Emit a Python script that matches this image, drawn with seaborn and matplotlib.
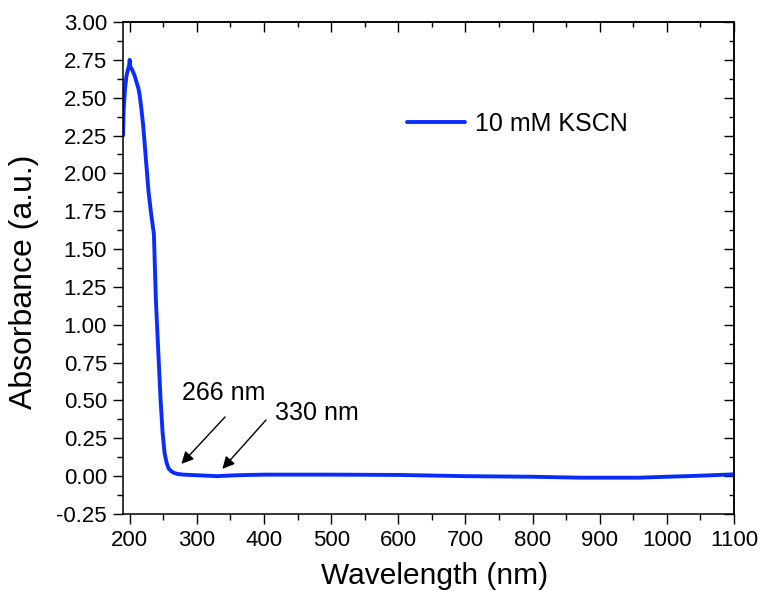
import matplotlib
matplotlib.use("Agg")
import matplotlib.pyplot as plt
import seaborn as sns
import pandas as pd
from matplotlib.ticker import MultipleLocator

wavelength = [190, 191, 193, 195, 197, 199, 200, 201, 203, 205, 207, 209, 211, 213, 215, 217,
              220, 224, 228, 232, 236, 239, 243, 246, 249, 252, 255, 258, 262, 266, 272, 280,
              300, 330, 360, 400, 500, 600, 700, 800, 870, 900, 960, 1000, 1050, 1100]
absorbance = [2.25, 2.42, 2.56, 2.64, 2.68, 2.71, 2.75, 2.70, 2.69, 2.67, 2.65, 2.62, 2.59, 2.56, 2.51, 2.44,
              2.32, 2.10, 1.88, 1.73, 1.60, 1.16, 0.78, 0.50, 0.285, 0.15, 0.087, 0.05, 0.032, 0.021, 0.014, 0.010,
              0.006, 0.000, 0.006, 0.010, 0.010, 0.008, 0.000, -0.004, -0.010, -0.010, -0.010, -0.004, 0.003, 0.012]
series_label = "10 mM KSCN"
x_ticks = [200, 300, 400, 500, 600, 700, 800, 900, 1000, 1100]
y_ticks = [-0.25, 0.00, 0.25, 0.50, 0.75, 1.00, 1.25, 1.50, 1.75, 2.00, 2.25, 2.50, 2.75, 3.00]
annot_texts = ["266 nm", "330 nm"]
annot_text_pos = [(278, 0.55), (416, 0.418)]
annot_tail = [(342, 0.391), (403, 0.371)]
annot_head = [(277, 0.081), (338, 0.048)]

sns.set_style("ticks")
plt.rcParams['font.family'] = ['Liberation Sans', 'DejaVu Sans']
for key in ["text.color", "axes.labelcolor", "xtick.color", "ytick.color", "axes.edgecolor"]:
    plt.rcParams[key] = "black"

df = pd.DataFrame({"Wavelength": wavelength, "Absorbance": absorbance, "Sample": series_label})

fig = plt.figure(figsize=(7.61, 5.91), dpi=100)
ax = fig.add_axes([123 / 761, 1 - 514 / 591, (734 - 123) / 761, (514 - 22) / 591])
sns.lineplot(data=df, x="Wavelength", y="Absorbance", hue="Sample", palette=["#0a2dff"],
             linewidth=2.8, ax=ax)

ax.set_xlim(190, 1100)
ax.set_ylim(-0.25, 3.0)
ax.set_xticks(x_ticks)
ax.set_yticks(y_ticks)
ax.set_yticklabels([f"{v:.2f}" for v in y_ticks])
ax.xaxis.set_minor_locator(MultipleLocator(50))
ax.yaxis.set_minor_locator(MultipleLocator(0.125))

for side in ["top", "right", "left", "bottom"]:
    ax.spines[side].set_visible(True)
    ax.spines[side].set_linewidth(1.1)
    ax.spines[side].set_color("black")

ax.tick_params(which="both", direction="out", width=1.0, colors="black",
               top=False, right=False, labelsize=16)
ax.tick_params(which="major", length=7.5, pad=4)
ax.tick_params(which="minor", length=4)

# inward ticks on top and right
sec_x = ax.secondary_xaxis('top')
sec_x.set_xticks(x_ticks)
sec_x.xaxis.set_minor_locator(MultipleLocator(50))
sec_x.tick_params(which="both", direction="in", width=1.0)
sec_x.tick_params(which="major", length=7)
sec_x.tick_params(which="minor", length=3.6)
sec_x.set_xticklabels([])
sec_y = ax.secondary_yaxis('right')
sec_y.set_yticks(y_ticks)
sec_y.yaxis.set_minor_locator(MultipleLocator(0.125))
sec_y.tick_params(which="both", direction="in", width=1.0)
sec_y.tick_params(which="major", length=7)
sec_y.tick_params(which="minor", length=3.6)
sec_y.set_yticklabels([])
for sec in (sec_x, sec_y):
    for sp in sec.spines.values():
        sp.set_linewidth(1.1)

ax.set_xlabel("Wavelength (nm)", fontsize=21.5)
ax.set_ylabel("Absorbance (a.u.)", fontsize=23)
ax.xaxis.set_label_coords(0.51, -0.097)
ax.yaxis.set_label_coords(-0.138, 0.4715)

leg = ax.legend(loc="center left", bbox_to_anchor=(0.465, (514 - 124) / 492), frameon=False,
                fontsize=18, handlelength=2.3, handletextpad=0.4, borderpad=0, borderaxespad=0)

for txt, tpos, tail, head in zip(annot_texts, annot_text_pos, annot_tail, annot_head):
    ax.text(tpos[0], tpos[1], txt, fontsize=18, ha="left", va="center")
    ax.annotate("", xy=head, xytext=tail,
                arrowprops=dict(arrowstyle="-|>", color="black", lw=1.0, mutation_scale=18,
                                shrinkA=0, shrinkB=0))

fig.savefig("out.png", dpi=100)
